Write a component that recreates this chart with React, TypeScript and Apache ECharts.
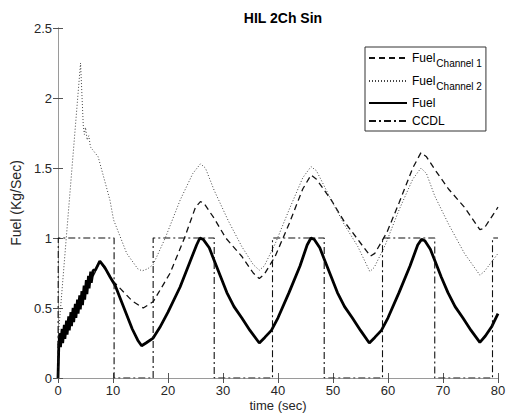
import React, { useEffect, useRef } from "react";
import * as echarts from "echarts";

const titleText = "HIL 2Ch Sin";
const xName = "time (sec)";
const yName = "Fuel (Kg/Sec)";
const seriesNames = ["Fuel Channel 1", "Fuel Channel 2", "Fuel", "CCDL"];

const fuelCh1: [number, number][] = [
  [0, 0], [0.2, 0.25], [6.8, 0.76], [7.6, 0.835], [9.8, 0.7], [11.3, 0.64], [13.5, 0.55],
  [15.5, 0.5], [17.3, 0.545], [20.4, 0.75], [23, 1.0], [25.0, 1.22], [25.9, 1.26], [26.5, 1.25],
  [28.4, 1.14], [30.5, 1.0], [33.4, 0.87], [35.5, 0.75], [36.6, 0.71], [37.5, 0.74], [39.5, 0.87],
  [42, 1.1], [44.5, 1.35], [46.0, 1.45], [47, 1.42], [49.7, 1.27], [52, 1.12], [54.5, 0.99],
  [56.8, 0.87], [57.6, 0.89], [59.8, 1.04], [62, 1.25], [64.5, 1.5], [66.0, 1.61], [67, 1.58],
  [68.5, 1.49], [71, 1.35], [73.9, 1.22], [76.7, 1.06], [77.5, 1.07], [80, 1.22],
];

const fuelCh2: [number, number][] = [
  [0, 0], [0.05, 0.3], [4.1, 2.25], [4.6, 1.8], [4.8, 1.74], [5.0, 1.79], [5.3, 1.7], [5.6, 1.73],
  [5.9, 1.65], [6.3, 1.63], [7.3, 1.58], [9.45, 1.27], [10.1, 1.13], [12.5, 0.89], [14.5, 0.78],
  [15.3, 0.765], [16.3, 0.78], [17.3, 0.81], [19.5, 1.0], [22.2, 1.27], [24.5, 1.46], [25.9, 1.53],
  [26.8, 1.5], [28.4, 1.34], [31, 1.12], [33.4, 0.94], [35.5, 0.81], [36.6, 0.77], [37.5, 0.8],
  [39.5, 0.96], [42, 1.2], [44.5, 1.43], [46, 1.51], [47, 1.48], [49.7, 1.27], [52, 1.1],
  [54.5, 0.94], [56.7, 0.76], [57.5, 0.79], [59.5, 0.95], [62, 1.2], [64.5, 1.42], [66, 1.5],
  [67, 1.46], [68.5, 1.3], [71, 1.1], [73.9, 0.89], [76.7, 0.735], [77.5, 0.76], [80, 0.89],
];

const fuel: [number, number][] = [
  [0, 0], [0.15, 0.24], [0.35, 0.32], [0.45, 0.22], [0.75, 0.35], [0.85, 0.25], [1.15, 0.38],
  [1.25, 0.28], [1.55, 0.41], [1.65, 0.31], [1.95, 0.44], [2.05, 0.34], [2.35, 0.47], [2.45, 0.37],
  [2.75, 0.5], [2.85, 0.4], [3.15, 0.53], [3.25, 0.43], [3.55, 0.56], [3.65, 0.46], [3.95, 0.59],
  [4.05, 0.49], [4.35, 0.62], [4.45, 0.52], [4.75, 0.66], [4.85, 0.56], [5.15, 0.7], [5.25, 0.6],
  [5.55, 0.73], [5.65, 0.64], [5.95, 0.76], [6.05, 0.68], [6.4, 0.77], [6.8, 0.77], [7.6, 0.835],
  [8.5, 0.79], [9.5, 0.72], [10.4, 0.66],
  [11.5, 0.55], [12.5, 0.45], [13.5, 0.35], [14.5, 0.27], [15.2, 0.23], [16.0, 0.25], [17.3, 0.285],
  [18.5, 0.36], [20, 0.47], [22.2, 0.65], [24, 0.83], [25.2, 0.95], [25.8, 1.0], [26.4, 0.99],
  [27.5, 0.93], [28.4, 0.84], [29.5, 0.73], [30.7, 0.61], [32, 0.51], [33.4, 0.43], [34.9, 0.34],
  [36.6, 0.25], [37.6, 0.29], [38.8, 0.34], [40, 0.43], [42, 0.61], [44, 0.8], [45.3, 0.95],
  [46, 1.0], [46.6, 0.99], [47.6, 0.93], [48.5, 0.84], [49.6, 0.73], [50.8, 0.61], [52.1, 0.51],
  [53.5, 0.43], [55, 0.34], [56.6, 0.25], [57.6, 0.29], [58.8, 0.34], [60, 0.43], [62, 0.61],
  [64, 0.8], [65.4, 0.95], [66.1, 0.99], [66.7, 0.98], [67.7, 0.92], [68.6, 0.83], [69.7, 0.72],
  [70.9, 0.61], [72.2, 0.51], [73.6, 0.43], [75.1, 0.34], [76.7, 0.255], [77.7, 0.3], [78.9, 0.37],
  [80, 0.46],
];

const ccdl: [number, number][] = [
  [0, 0], [0.05, 1], [10.2, 1], [10.2, 0], [17.3, 0], [17.3, 1], [28.4, 1], [28.4, 0], [39.0, 0],
  [39.0, 1], [48.4, 1], [48.4, 0], [59.0, 0], [59.0, 1], [68.5, 1], [68.5, 0], [79.0, 0], [79.0, 1],
  [80, 1],
];

const FONT = '"Liberation Sans", Arial, Helvetica, sans-serif';
const AXIS_COLOR = "#9a9a9a";
const LABEL_COLOR = "#262626";

export default function App() {
  const ref = useRef<HTMLDivElement>(null);
  useEffect(() => {
    const chart = echarts.init(ref.current!, null, { renderer: "svg" });
    const baseAxis = {
      type: "value" as const,
      axisLine: { show: true, lineStyle: { color: AXIS_COLOR, width: 1 } },
      axisTick: { show: true, inside: true, length: 5, lineStyle: { color: "#555" } },
      splitLine: { show: false },
    };
    chart.setOption({
      animation: false,
      backgroundColor: "#fff",
      textStyle: { fontFamily: FONT },
      title: {
        text: titleText,
        left: 278,
        top: 6,
        textAlign: "center",
        textStyle: { fontFamily: FONT, fontSize: 14, fontWeight: "bold", color: "#000" },
      },
      grid: { left: 58, right: 9, top: 28, bottom: 38, containLabel: false, outerBoundsMode: "none" },
      legend: {
        orient: "vertical",
        left: 365,
        top: 47,
        padding: [4, 4, 4, 3],
        itemGap: 6,
        itemWidth: 38,
        itemHeight: 12,
        backgroundColor: "#fff",
        borderColor: "#333",
        borderWidth: 1,
        borderRadius: 0,
        itemStyle: { opacity: 0 },
        data: seriesNames,
        formatter: (name: string) =>
          name.startsWith("Fuel Channel")
            ? `{m|Fuel}{s|${name.slice(5)}}`
            : `{m|${name}}`,
        textStyle: {
          fontFamily: FONT,
          color: "#000",
          rich: {
            m: { fontFamily: FONT, fontSize: 12, color: "#000", lineHeight: 14, verticalAlign: "middle" },
            s: { fontFamily: FONT, fontSize: 10, color: "#000", lineHeight: 12, padding: [7, 0, 0, 1], verticalAlign: "top" },
          },
        },
      },
      xAxis: [
        {
          ...baseAxis,
          position: "bottom",
          min: 0,
          max: 80,
          interval: 10,
          name: xName,
          nameLocation: "middle",
          nameGap: 20,
          nameMoveOverlap: false,
          nameTextStyle: { fontFamily: FONT, fontSize: 13, color: LABEL_COLOR, lineHeight: 14 },
          axisLabel: { fontFamily: FONT, fontSize: 13, color: LABEL_COLOR, margin: 6 },
        },
        {
          ...baseAxis,
          position: "top",
          min: 0,
          max: 80,
          interval: 10,
          axisLabel: { show: false },
        },
      ],
      yAxis: [
        {
          ...baseAxis,
          position: "left",
          min: 0,
          max: 2.5,
          interval: 0.5,
          name: yName,
          nameLocation: "middle",
          nameGap: 25,
          nameRotate: 90,
          nameTextStyle: { fontFamily: FONT, fontSize: 14, color: LABEL_COLOR },
          axisLabel: { fontFamily: FONT, fontSize: 13, color: LABEL_COLOR, margin: 6 },
        },
        {
          ...baseAxis,
          position: "right",
          min: 0,
          max: 2.5,
          interval: 0.5,
          axisLabel: { show: false },
        },
      ],
      series: [
        {
          name: seriesNames[0],
          type: "line",
          data: fuelCh1,
          showSymbol: false,
          symbol: "none",
          lineStyle: { color: "#111", width: 1.3, type: [6, 4] },
          itemStyle: { color: "#111" },
        },
        {
          name: seriesNames[1],
          type: "line",
          data: fuelCh2,
          showSymbol: false,
          symbol: "none",
          lineStyle: { color: "#444", width: 1, type: [1, 2] },
          itemStyle: { color: "#444" },
        },
        {
          name: seriesNames[2],
          type: "line",
          data: fuel,
          showSymbol: false,
          symbol: "none",
          lineStyle: { color: "#000", width: 2.8, type: "solid" },
          itemStyle: { color: "#000" },
        },
        {
          name: seriesNames[3],
          type: "line",
          data: ccdl,
          showSymbol: false,
          symbol: "none",
          lineStyle: { color: "#111", width: 1.1, type: [7, 3, 2, 3] },
          itemStyle: { color: "#111" },
        },
      ],
    });
    return () => chart.dispose();
  }, []);
  return (
    <div
      ref={ref}
      style={{ position: "fixed", left: 0, top: 0, width: 507, height: 416 }}
    />
  );
}
